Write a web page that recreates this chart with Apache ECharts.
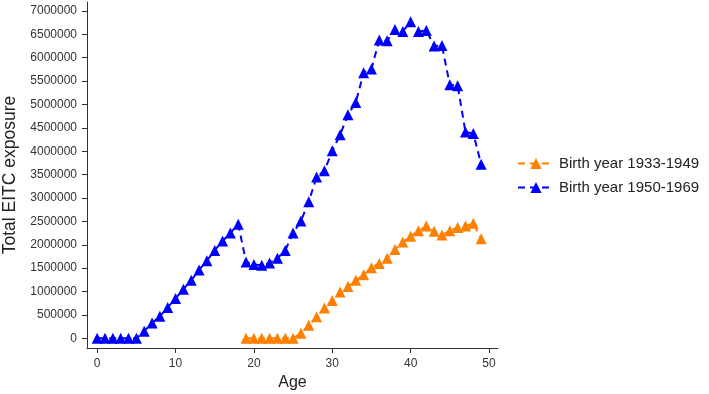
<!DOCTYPE html>
<html>
<head>
<meta charset="utf-8">
<script src="https://cdn.jsdelivr.net/npm/echarts@6/dist/echarts.min.js"></script>
<style>html,body{margin:0;padding:0;background:#fff;}#c{width:709px;height:394px;}</style>
</head>
<body>
<div id="c"></div>
<script>
var agesBlue = [0,1,2,3,4,5,6,7,8,9,10,11,12,13,14,15,16,17,18,19,20,21,22,23,24,25,26,27,28,29,30,31,32,33,34,35,36,37,38,39,40,41,42,43,44,45,46,47,48,49];
var blueValues = [0,0,0,0,0,0,150000,330000,470000,660000,850000,1050000,1240000,1460000,1660000,1880000,2080000,2250000,2440000,1630000,1580000,1560000,1610000,1710000,1880000,2250000,2510000,2920000,3450000,3580000,4010000,4350000,4780000,5040000,5680000,5760000,6380000,6360000,6600000,6560000,6770000,6560000,6580000,6250000,6260000,5420000,5400000,4410000,4380000,3720000];
var agesOrange = [19,20,21,22,23,24,25,26,27,28,29,30,31,32,33,34,35,36,37,38,39,40,41,42,43,44,45,46,47,48,49];
var orangeValues = [0,0,0,0,0,0,0,110000,280000,460000,650000,810000,990000,1110000,1240000,1360000,1510000,1600000,1710000,1900000,2060000,2180000,2300000,2400000,2290000,2210000,2300000,2370000,2400000,2460000,2130000];
var xTicks = [0,10,20,30,40,50];
var yTicks = [0,500000,1000000,1500000,2000000,2500000,3000000,3500000,4000000,4500000,5000000,5500000,6000000,6500000,7000000];
var seriesNames = ['Birth year 1933-1949','Birth year 1950-1969'];

function pairs(xs, ys){ return xs.map(function(x,i){ return [x, ys[i]]; }); }

var chart = echarts.init(document.getElementById('c'), null, {renderer:'canvas'});
var font = 'Liberation Sans, Arial, sans-serif';
chart.setOption({
  animation: false,
  textStyle: {fontFamily: font},
  grid: {left: 87, right: 211, top: 2, bottom: 46, containLabel: false, outerBoundsMode: 'none'},
  legend: {
    orient: 'vertical', left: 512, top: 151,
    itemWidth: 36, itemHeight: 14, itemGap: 9,
    textStyle: {fontSize: 15, color: '#222', fontFamily: font},
    data: seriesNames
  },
  xAxis: {
    type: 'value', min: -1.3, max: 51.15,
    name: 'Age', nameLocation: 'middle', nameGap: 27,
    nameTextStyle: {fontSize: 16, color: '#222', fontFamily: font},
    splitLine: {show: false},
    axisLine: {show: true, onZero: false, lineStyle: {color: '#333', width: 1}},
    axisTick: {show: true, length: 5, customValues: xTicks, lineStyle: {color: '#333'}},
    axisLabel: {customValues: xTicks, fontSize: 12, color: '#333', margin: 10, fontFamily: font,
      formatter: function(v){ return String(v); }}
  },
  yAxis: {
    type: 'value', min: -207000, max: 7190000,
    name: 'Total EITC exposure', nameLocation: 'middle', nameGap: 68, nameRotate: 90,
    nameTextStyle: {fontSize: 17.5, color: '#222', fontFamily: font},
    splitLine: {show: false},
    axisLine: {show: true, onZero: false, lineStyle: {color: '#333', width: 1}},
    axisTick: {show: true, length: 5, customValues: yTicks, lineStyle: {color: '#333'}},
    axisLabel: {customValues: yTicks, fontSize: 12, color: '#333', margin: 10, fontFamily: font,
      formatter: function(v){ return String(v); }}
  },
  series: [
    {
      name: seriesNames[0], type: 'line', data: pairs(agesOrange, orangeValues),
      symbol: 'triangle', symbolSize: 11,
      itemStyle: {color: '#ff8000'},
      lineStyle: {color: '#ff8000', width: 2, type: [7,5]}
    },
    {
      name: seriesNames[1], type: 'line', data: pairs(agesBlue, blueValues),
      symbol: 'triangle', symbolSize: 11,
      itemStyle: {color: '#0000ff'},
      lineStyle: {color: '#0000ff', width: 2, type: [7,5]}
    }
  ]
});
</script>
</body>
</html>
